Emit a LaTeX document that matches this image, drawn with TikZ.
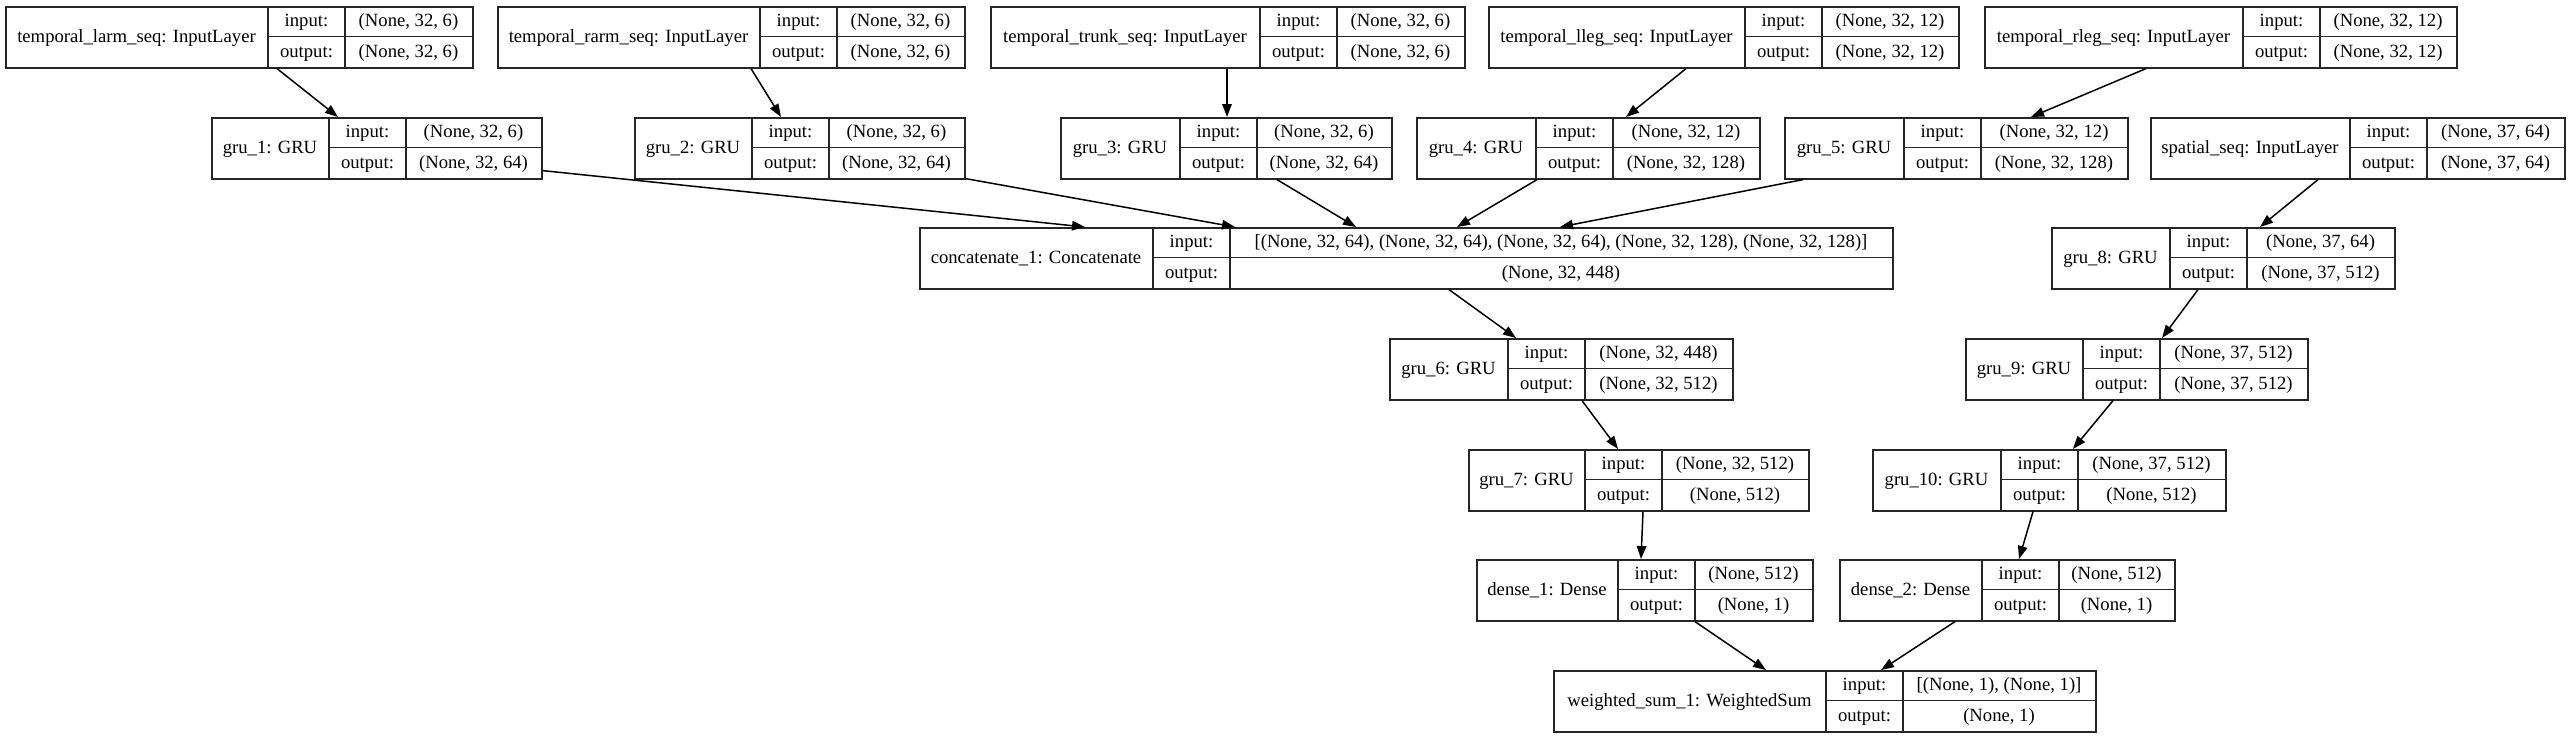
\documentclass[tikz,border=0pt]{standalone}
\usepackage{fontspec}
\setmainfont{Liberation Serif}
\usetikzlibrary{arrows.meta}
\colorlet{lc}{black!85}
\tikzset{
  lbox/.style={draw=lc, line width=1.6pt, minimum height=61pt, inner sep=0pt},
  lline/.style={draw=lc, line width=1.6pt},
  ltxt/.style={inner sep=0pt, text height=13.5pt, text depth=2.5pt, font=\fontsize{18.67}{22}\selectfont},
  conn/.style={draw=black, line width=1.5pt, -{Triangle[length=13pt,width=9.5pt]}}
}
% #1 name, #2 left, #3 top, #4 name-cell width, #5 value-cell width, #6 label, #7 input, #8 output
\newcommand\klayer[8]{%
  \pgfmathsetmacro\kA{#2+#4}%
  \pgfmathsetmacro\kB{\kA+77}%
  \pgfmathsetmacro\kR{\kB+#5}%
  \pgfmathsetmacro\kW{\kR-#2}%
  \node[lbox, minimum width=\kW pt, anchor=north west] (#1) at (#2,#3) {};
  \draw[lline] (\kA,#3) -- ++(0,61) (\kB,#3) -- ++(0,61) (\kA,#3+30.5) -- (\kR,#3+30.5);
  \node[ltxt] (#1-n) at ({(#2+\kA)/2},#3+30.5) {#6};
  \node[ltxt] (#1-il) at ({(\kA+\kB)/2},#3+15.25) {input:};
  \node[ltxt] (#1-ol) at ({(\kA+\kB)/2},#3+45.75) {output:};
  \node[ltxt] (#1-iv) at ({(\kB+\kR)/2},#3+15.25) {#7};
  \node[ltxt] (#1-ov) at ({(\kB+\kR)/2},#3+45.75) {#8};
}
\begin{document}
\begin{tikzpicture}[x=1pt,y=-1pt]
\useasboundingbox (0,0) rectangle (2569,737);
% row 1
\klayer{larm}{5}{6}{263}{127}{temporal\_larm\_seq: InputLayer}{(None, 32, 6)}{(None, 32, 6)}
\klayer{rarm}{497}{6}{263}{127}{temporal\_rarm\_seq: InputLayer}{(None, 32, 6)}{(None, 32, 6)}
\klayer{trunk}{990}{6}{270}{127}{temporal\_trunk\_seq: InputLayer}{(None, 32, 6)}{(None, 32, 6)}
\klayer{lleg}{1488}{6}{257}{136}{temporal\_lleg\_seq: InputLayer}{(None, 32, 12)}{(None, 32, 12)}
\klayer{rleg}{1984}{6}{259}{136}{temporal\_rleg\_seq: InputLayer}{(None, 32, 12)}{(None, 32, 12)}
% row 2
\klayer{gru1}{211}{117}{118}{135}{gru\_1: GRU}{(None, 32, 6)}{(None, 32, 64)}
\klayer{gru2}{634}{117}{118}{135}{gru\_2: GRU}{(None, 32, 6)}{(None, 32, 64)}
\klayer{gru3}{1060}{117}{120}{134}{gru\_3: GRU}{(None, 32, 6)}{(None, 32, 64)}
\klayer{gru4}{1416}{117}{120}{146}{gru\_4: GRU}{(None, 32, 12)}{(None, 32, 128)}
\klayer{gru5}{1784}{117}{120}{146}{gru\_5: GRU}{(None, 32, 12)}{(None, 32, 128)}
\klayer{spatial}{2150}{117}{200}{137}{spatial\_seq: InputLayer}{(None, 37, 64)}{(None, 37, 64)}
% row 3
\klayer{concat}{919}{227}{234}{662}{concatenate\_1: Concatenate}{[(None, 32, 64), (None, 32, 64), (None, 32, 64), (None, 32, 128), (None, 32, 128)]}{(None, 32, 448)}
\klayer{gru8}{2051}{227}{119}{147}{gru\_8: GRU}{(None, 37, 64)}{(None, 37, 512)}
% row 4
\klayer{gru6}{1389}{338}{119}{147}{gru\_6: GRU}{(None, 32, 448)}{(None, 32, 512)}
\klayer{gru9}{1965}{338}{118}{147}{gru\_9: GRU}{(None, 37, 512)}{(None, 37, 512)}
% row 5
\klayer{gru7}{1468}{449}{117}{146}{gru\_7: GRU}{(None, 32, 512)}{(None, 512)}
\klayer{gru10}{1872}{449}{129}{147}{gru\_10: GRU}{(None, 37, 512)}{(None, 512)}
% row 6
\klayer{dense1}{1476}{559}{142}{117}{dense\_1: Dense}{(None, 512)}{(None, 1)}
\klayer{dense2}{1839}{559}{143}{115}{dense\_2: Dense}{(None, 512)}{(None, 1)}
% row 7
\klayer{wsum}{1553}{670}{273}{192}{weighted\_sum\_1: WeightedSum}{[(None, 1), (None, 1)]}{(None, 1)}
% connectors
\draw[conn] ([xshift=272pt]larm.south west) -- ([xshift=127pt]gru1.north west);
\draw[conn] ([xshift=254pt]rarm.south west) -- ([xshift=147pt]gru2.north west);
\draw[conn] ([xshift=237pt]trunk.south west) -- ([xshift=167pt]gru3.north west);
\draw[conn] ([xshift=198pt]lleg.south west) -- ([xshift=210pt]gru4.north west);
\draw[conn] ([xshift=162pt]rleg.south west) -- ([xshift=247pt]gru5.north west);
\draw[conn] ([xshift=168pt]spatial.south west) -- ([xshift=209pt]gru8.north west);
\draw[conn] ([yshift=9pt]gru1.south east) -- ([xshift=166pt]concat.north west);
\draw[conn] ([yshift=1pt]gru2.south east) -- ([xshift=316pt]concat.north west);
\draw[conn] ([xshift=217pt]gru3.south west) -- ([xshift=437pt]concat.north west);
\draw[conn] ([xshift=121pt]gru4.south west) -- ([xshift=538pt]concat.north west);
\draw[conn] ([xshift=19pt]gru5.south west) -- ([xshift=641pt]concat.north west);
\draw[conn] ([xshift=530pt]concat.south west) -- ([xshift=127pt]gru6.north west);
\draw[conn] ([xshift=147pt]gru8.south west) -- ([xshift=197pt]gru9.north west);
\draw[conn] ([xshift=193pt]gru6.south west) -- ([xshift=150pt]gru7.north west);
\draw[conn] ([xshift=148pt]gru9.south west) -- ([xshift=201pt]gru10.north west);
\draw[conn] ([xshift=175pt]gru7.south west) -- ([xshift=165pt]dense1.north west);
\draw[conn] ([xshift=161pt]gru10.south west) -- ([xshift=180pt]dense2.north west);
\draw[conn] ([xshift=219pt]dense1.south west) -- ([xshift=213pt]wsum.north west);
\draw[conn] ([xshift=116pt]dense2.south west) -- ([xshift=328pt]wsum.north west);
\end{tikzpicture}
\end{document}
